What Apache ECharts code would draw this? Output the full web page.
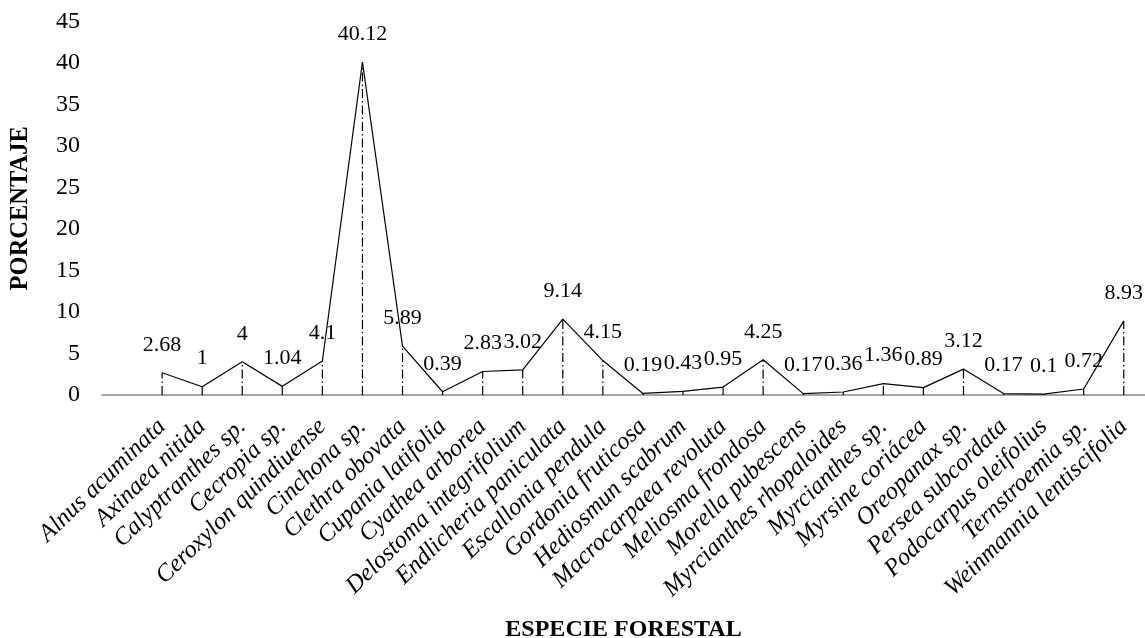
<!DOCTYPE html>
<html>
<head>
<meta charset="utf-8">
<script src="https://cdn.jsdelivr.net/npm/echarts@6/dist/echarts.min.js"></script>
<style>
html,body{margin:0;padding:0;background:#fff;}
#chart{width:1145px;height:638px;}
</style>
</head>
<body>
<div id="chart"></div>
<script>
const categories = [
  'Alnus acuminata','Axinaea nitida','Calyptranthes sp.','Cecropia sp.','Ceroxylon quindiuense',
  'Cinchona sp.','Clethra obovata','Cupania latifolia','Cyathea arborea','Delostoma integrifolium',
  'Endlicheria paniculata','Escallonia pendula','Gordonia fruticosa','Hediosmun scabrum','Macrocarpaea revoluta',
  'Meliosma frondosa','Morella pubescens','Myrcianthes rhopaloides','Myrcianthes sp.','Myrsine coriácea',
  'Oreopanax sp.','Persea subcordata','Podocarpus oleifolius','Ternstroemia sp.','Weinmannia lentiscifolia'
];
const values = [2.68,1,4,1.04,4.1,40.12,5.89,0.39,2.83,3.02,9.14,4.15,0.19,0.43,0.95,4.25,0.17,0.36,1.36,0.89,3.12,0.17,0.1,0.72,8.93];
const yTicks = [0,5,10,15,20,25,30,35,40,45];

const FONT = "'Liberation Serif','Times New Roman',serif";
const pts = values.map((v,i)=>[i,v]);
const idx = categories.map((c,i)=>i);

const chart = echarts.init(document.getElementById('chart'), null, {renderer:'canvas'});
chart.setOption({
  animation:false,
  backgroundColor:'#fff',
  grid:{left:102,right:0,top:21.5,bottom:243,containLabel:false,outerBoundsMode:'none'},
  xAxis:{
    type:'value', min:-1.5, max:24.53,
    name:'ESPECIE FORESTAL', nameLocation:'middle', nameGap:223,
    nameTextStyle:{fontFamily:FONT,fontWeight:'bold',fontSize:24,color:'#000'},
    axisLine:{show:true,lineStyle:{color:'#888',width:1.5}},
    axisTick:{show:false},
    splitLine:{show:false},
    axisLabel:{
      customValues: idx,
      rotate:44, margin:28,
      fontFamily:FONT, fontStyle:'italic', fontSize:24.5, color:'#000',
      formatter:(v)=>categories[Math.round(v)] || ''
    }
  },
  yAxis:{
    type:'value', min:0, max:45, interval:5,
    name:'PORCENTAJE', nameLocation:'middle', nameRotate:90, nameGap:69,
    nameTextStyle:{fontFamily:FONT,fontWeight:'bold',fontSize:24.5,color:'#000'},
    axisLine:{show:false}, axisTick:{show:false}, splitLine:{show:false},
    axisLabel:{margin:22,fontFamily:FONT,fontSize:24,color:'#000',
      formatter:(v)=>yTicks.includes(v)?String(v):''}
  },
  series:[
    {
      type:'custom',
      data:pts,
      encode:{x:0,y:1},
      silent:true,
      z:1,
      renderItem:(params,api)=>{
        const i=api.value(0), v=api.value(1);
        const p0=api.coord([i,0]), p1=api.coord([i,v]);
        return {type:'line',shape:{x1:p0[0],y1:p0[1],x2:p1[0],y2:p1[1]},
          style:{stroke:'#000',lineWidth:1.2,lineDash:[9,3,1.5,3]}};
      }
    },
    {
      type:'line',
      data:pts,
      symbol:'circle',
      symbolSize:0.01,
      showSymbol:true,
      itemStyle:{color:'rgba(0,0,0,0)'},
      z:2,
      lineStyle:{color:'#000',width:1.2},
      label:{show:true,position:'top',distance:17,fontFamily:FONT,fontSize:22,color:'#000'}
    }
  ]
});
</script>
</body>
</html>
